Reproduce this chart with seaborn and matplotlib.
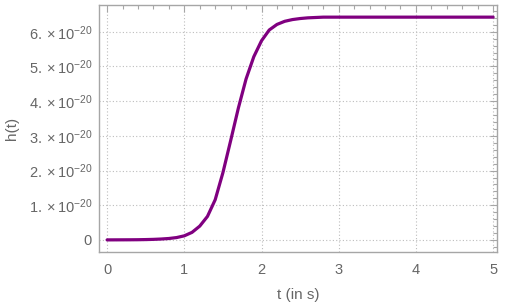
import numpy as np
import pandas as pd
import matplotlib
matplotlib.use("Agg")
import matplotlib.pyplot as plt
import seaborn as sns
from matplotlib.ticker import FixedLocator, MultipleLocator

# values (h in units of 1e-20)
t = [0.0, 0.1, 0.2, 0.3, 0.4, 0.5, 0.6, 0.7, 0.8, 0.9,
     1.0, 1.1, 1.2, 1.3, 1.4, 1.5, 1.6, 1.7, 1.8, 1.9,
     2.0, 2.1, 2.2, 2.3, 2.4, 2.5, 2.6, 2.7, 2.8, 3.0,
     3.5, 4.0, 4.5, 5.0]
h_e20 = [0.003, 0.004, 0.005, 0.006, 0.008, 0.012, 0.018, 0.028, 0.043, 0.07,
         0.12, 0.22, 0.40, 0.68, 1.16, 1.94, 2.86, 3.80, 4.64, 5.28,
         5.74, 6.05, 6.21, 6.30, 6.35, 6.38, 6.40, 6.41, 6.42, 6.42,
         6.42, 6.42, 6.42, 6.42]
yticks_e20 = [0, 1, 2, 3, 4, 5, 6]
xticks = [0, 1, 2, 3, 4, 5]

df = pd.DataFrame({"t": t, "h": np.array(h_e20) * 1e-20})

sns.set_style("white")
plt.rcParams["font.family"] = ["Liberation Sans", "DejaVu Sans"]
plt.rcParams["mathtext.fontset"] = "custom"
plt.rcParams["mathtext.rm"] = "Liberation Sans"
plt.rcParams["mathtext.it"] = "Liberation Sans:italic"

grey = "#666666"
frame = "#a6a6a6"

fig = plt.figure(figsize=(5.06, 3.02), dpi=100)
ax = fig.add_axes([99 / 506, 50 / 302, 398 / 506, 247 / 302])

sns.lineplot(data=df, x="t", y="h", color="#800080", linewidth=2.3, ax=ax)

ax.set_xlim(-0.105, 5.05)
ax.set_ylim(-0.346e-20, 6.77e-20)

ax.xaxis.set_major_locator(FixedLocator(xticks))
ax.xaxis.set_minor_locator(MultipleLocator(0.2))
ax.yaxis.set_major_locator(FixedLocator([v * 1e-20 for v in yticks_e20]))
ax.yaxis.set_minor_locator(MultipleLocator(0.2e-20))
ax.set_xticklabels([str(v) for v in xticks])
ax.set_yticklabels(["0"] + [r"$%d.\times10^{-20}$" % v for v in yticks_e20[1:]])

ax.grid(True, which="major", linestyle=(0, (1, 2)), color="#bdbdbd", linewidth=0.8)
ax.tick_params(which="both", direction="in", top=True, right=True, color=frame,
               labelcolor=grey, labelsize=10.5, width=0.8)
ax.tick_params(which="major", length=5)
ax.tick_params(axis="x", which="major", pad=8)
ax.tick_params(axis="y", which="major", pad=5)
ax.tick_params(which="minor", length=2.8)
for s in ax.spines.values():
    s.set_color(frame)
    s.set_linewidth(1.0)

ax.set_xlabel("t (in s)", color=grey, fontsize=11, labelpad=8)
ax.set_ylabel("h(t)", color=grey, fontsize=11, labelpad=7)

fig.savefig("out.png", dpi=100)
